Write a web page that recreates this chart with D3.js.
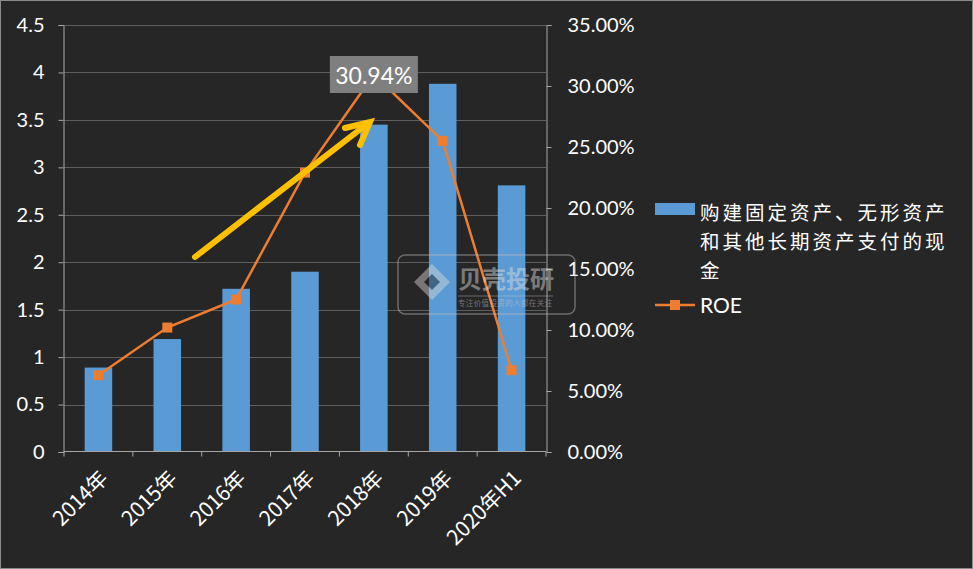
<!DOCTYPE html>
<html>
<head>
<meta charset="utf-8">
<script src="https://cdn.jsdelivr.net/npm/d3@7"></script>
<style>
html,body{margin:0;padding:0;background:#262626;}
svg{display:block;}
</style>
</head>
<body>
<svg id="chart" width="973" height="569"></svg>
<script>
const categories = ["2014年","2015年","2016年","2017年","2018年","2019年","2020年H1"];
const capex = [0.89, 1.19, 1.72, 1.90, 3.45, 3.88, 2.81];
const roe = [0.0629, 0.102, 0.125, 0.229, 0.3094, 0.255, 0.067];
const leftTicks = [0,0.5,1,1.5,2,2.5,3,3.5,4,4.5];
const rightTicks = [0,0.05,0.10,0.15,0.20,0.25,0.30,0.35];
const seriesNames = ["购建固定资产、无形资产和其他长期资产支付的现金","ROE"];
const legendLines = ["购建固定资产、无形资产","和其他长期资产支付的现","金"];
const peakLabel = "30.94%";

const svg = d3.select("#chart");
const W = 973, H = 569;
const numFont = "Lato, 'Noto Sans', sans-serif";
const cjkFont = "'Noto Sans CJK SC', 'Noto Sans', sans-serif";

svg.append("rect").attr("x",0.5).attr("y",0.5).attr("width",W-1).attr("height",H-1)
  .attr("fill","#262626").attr("stroke","#8a8a8a").attr("stroke-width",1);

const plot = {left:64, right:546, top:25, bottom:452};

const x = d3.scaleBand().domain(categories).range([plot.left, plot.right]).paddingInner(0.6).paddingOuter(0.3);
const xb = d3.scaleBand().domain(categories).range([plot.left, plot.right]);
const yL = d3.scaleLinear().domain([0,4.5]).range([plot.bottom, plot.top]);
const yR = d3.scaleLinear().domain([0,0.35]).range([plot.bottom, plot.top]);

// gridlines
svg.append("g").selectAll("line").data(leftTicks.slice(1)).join("line")
  .attr("x1",plot.left).attr("x2",plot.right)
  .attr("y1",d=>Math.round(yL(d))+0.5).attr("y2",d=>Math.round(yL(d))+0.5)
  .attr("stroke","#5e5e5e").attr("stroke-width",1);

// bars
svg.append("g").selectAll("rect").data(capex).join("rect")
  .attr("x",(d,i)=>x(categories[i]))
  .attr("width",x.bandwidth())
  .attr("y",d=>yL(d))
  .attr("height",d=>plot.bottom-yL(d))
  .attr("fill","#5B9BD5");

// left axis
const gL = svg.append("g").attr("transform",`translate(${plot.left-0.5},0)`)
  .call(d3.axisLeft(yL).tickValues(leftTicks).tickFormat(d3.format("")).tickSize(5).tickPadding(14));
gL.select(".domain").attr("stroke","#a6a6a6");
gL.selectAll(".tick line").attr("stroke","#a6a6a6");
gL.selectAll(".tick text").attr("fill","#ffffff").style("font-family",numFont).style("font-size","20px");

// right axis
const gR = svg.append("g").attr("transform",`translate(${plot.right+0.5},0)`)
  .call(d3.axisRight(yR).tickValues(rightTicks).tickFormat(d3.format(".2%")).tickSize(5).tickPadding(16));
gR.select(".domain").attr("stroke","#a6a6a6");
gR.selectAll(".tick line").attr("stroke","#a6a6a6");
gR.selectAll(".tick text").attr("fill","#ffffff").style("font-family",numFont).style("font-size","20px");

// x axis
const gX = svg.append("g").attr("transform",`translate(0,${plot.bottom-0.5})`);
gX.append("line").attr("x1",plot.left).attr("x2",plot.right).attr("stroke","#a6a6a6");
const bounds = categories.map(c=>xb(c)).concat([plot.right]);
gX.selectAll("line.tk").data(bounds).join("line").attr("class","tk")
  .attr("x1",d=>d).attr("x2",d=>d).attr("y1",0).attr("y2",5).attr("stroke","#a6a6a6");
gX.selectAll("text").data(categories).join("text")
  .attr("transform",d=>`translate(${xb(d)+xb.bandwidth()/2+7},${24}) rotate(-45)`)
  .attr("text-anchor","end").attr("dominant-baseline","middle")
  .attr("fill","#ffffff").style("font-family",cjkFont).style("font-size","21px")
  .text(d=>d);

// ROE line
const cx = i => xb(categories[i]) + xb.bandwidth()/2;
const line = d3.line().x((d,i)=>cx(i)).y(d=>yR(d));
svg.append("path").datum(roe).attr("d",line).attr("fill","none")
  .attr("stroke","#ED7D31").attr("stroke-width",2.5);
svg.append("g").selectAll("rect").data(roe).join("rect")
  .attr("x",(d,i)=>cx(i)-5).attr("y",d=>yR(d)-5).attr("width",10).attr("height",10)
  .attr("fill","#ED7D31");

// peak label
const pi = roe.indexOf(d3.max(roe));
svg.append("rect").attr("x",cx(pi)-44).attr("y",56).attr("width",88).attr("height",37).attr("fill","#7f7f7f");
svg.append("text").attr("x",cx(pi)).attr("y",75).attr("text-anchor","middle").attr("dominant-baseline","central")
  .attr("fill","#ffffff").style("font-family",numFont).style("font-size","23px").text(peakLabel);

// yellow arrow
svg.append("path").attr("d","M195,257 L367,124").attr("stroke","#FFC000").attr("stroke-width",6).attr("stroke-linecap","round").attr("fill","none");
svg.append("path").attr("d","M345,128 L370,122 L360,145").attr("stroke","#FFC000").attr("stroke-width",6)
  .attr("stroke-linecap","round").attr("stroke-linejoin","miter").attr("fill","none");

// watermark
const wm = svg.append("g").attr("opacity",0.45);
wm.append("rect").attr("x",398).attr("y",255).attr("width",177).attr("height",59).attr("rx",7)
  .attr("fill","none").attr("stroke","#bfbfbf").attr("stroke-width",1.5);
wm.append("path").attr("d","M432,264 L450,282 L432,300 L414,282 Z").attr("fill","#d9d9d9");
wm.append("path").attr("d","M432,274 L440,282 L432,290 L424,282 Z").attr("fill","#262626");
wm.append("text").attr("x",458).attr("y",288).attr("fill","#e0e0e0").style("font-family",cjkFont)
  .style("font-size","24px").style("font-weight","bold").text("贝壳投研");
wm.append("line").attr("x1",458).attr("x2",553).attr("y1",296).attr("y2",296).attr("stroke","#bfbfbf");
wm.append("text").attr("x",458).attr("y",306).attr("fill","#d0d0d0").style("font-family",cjkFont)
  .style("font-size","7.5px").attr("textLength",94).text("专注价值投资的人都在关注");

// legend
const lg = svg.append("g");
lg.append("rect").attr("x",655).attr("y",203).attr("width",40).attr("height",12).attr("fill","#5B9BD5");
lg.selectAll("text.l1").data(legendLines).join("text").attr("class","l1")
  .attr("x",700).attr("y",(d,i)=>211+i*29).attr("dominant-baseline","central")
  .attr("fill","#ffffff").style("font-family",cjkFont).style("font-size","19.5px")
  .style("letter-spacing","3px").text(d=>d);
lg.append("line").attr("x1",655).attr("x2",695).attr("y1",305).attr("y2",305).attr("stroke","#ED7D31").attr("stroke-width",2.5);
lg.append("rect").attr("x",670).attr("y",300).attr("width",10).attr("height",10).attr("fill","#ED7D31");
lg.append("text").attr("x",700).attr("y",304).attr("dominant-baseline","central")
  .attr("fill","#ffffff").style("font-family",numFont).style("font-size","21px").text(seriesNames[1]);
</script>
</body>
</html>
